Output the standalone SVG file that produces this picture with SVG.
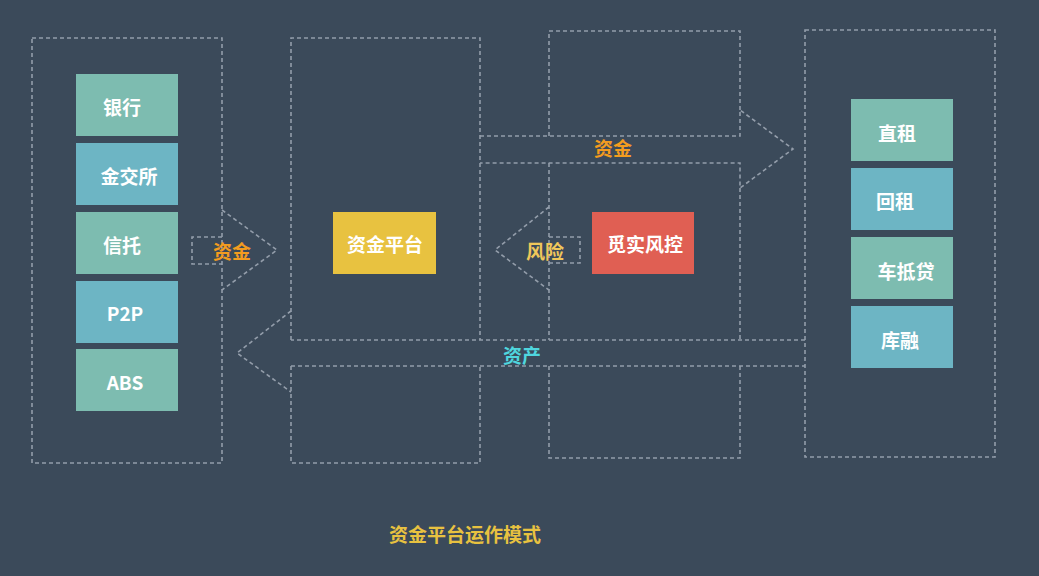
<svg xmlns="http://www.w3.org/2000/svg" width="1039" height="576" viewBox="0 0 1039 576">
<style>
.d{fill:none;stroke:#939daa;stroke-width:1.6;stroke-dasharray:4 3}
.t{font-family:"Noto Sans CJK SC","Liberation Sans",sans-serif;font-weight:bold;font-size:19px;text-anchor:middle;dominant-baseline:central}
.w{fill:#ffffff}
.g{fill:#7dbcb0}
.b{fill:#6db5c4}
</style>
<rect width="1039" height="576" fill="#3b4a5a"/>
<g id="frames">
<rect class="d" x="32" y="38" width="190" height="425"/>
<rect class="d" x="805" y="30" width="190" height="427"/>
<polyline class="d" points="291,340 291,38 480,38 480,340"/>
<polyline class="d" points="291,366 291,463 480,463 480,366"/>
<polyline class="d" points="549,136 549,31 740,31 740,110"/>
<polyline class="d" points="549,163 549,340"/>
<polyline class="d" points="740,188 740,340"/>
<polyline class="d" points="549,366 549,458 740,458 740,366"/>
</g>
<g id="connectors">
<path class="d" d="M222,237 H192 V264 H222 M222,210 L277,250 L222,290"/>
<path class="d" d="M480,136 H740 V110 L793,149 L740,188 V163 H480"/>
<path class="d" d="M549,207 L495,250 L549,290 M549,237 H580 V263 H549"/>
<path class="d" d="M805,340 H291 M291,311 L237,353 L291,392 M291,366 H805"/>
<text class="t" x="232" y="250" fill="#f39c1f" font-size="20">资金</text>
<text class="t" x="613" y="147" fill="#f39c1f">资金</text>
<text class="t" x="545" y="250" fill="#f0c75a" font-size="20">风险</text>
<text class="t" x="522" y="354" fill="#4fd6de">资产</text>
</g>
<g id="n-bank"><rect class="g" x="76" y="74" width="102" height="62"/><text class="t w" x="122" y="106">银行</text></g>
<g id="n-jjs"><rect class="b" x="76" y="143" width="102" height="62"/><text class="t w" x="129" y="175">金交所</text></g>
<g id="n-xt"><rect class="g" x="76" y="212" width="102" height="62"/><text class="t w" x="122" y="244">信托</text></g>
<g id="n-p2p"><rect class="b" x="76" y="281" width="102" height="62"/><text class="t w" x="125" y="312" font-family="Liberation Sans,sans-serif">P2P</text></g>
<g id="n-abs"><rect class="g" x="76" y="349" width="102" height="62"/><text class="t w" x="125" y="381" font-family="Liberation Sans,sans-serif">ABS</text></g>
<g id="n-platform"><rect x="333" y="212" width="103" height="62" fill="#e8c240"/><text class="t w" x="385" y="243">资金平台</text></g>
<g id="n-risk"><rect x="592" y="212" width="102" height="62" fill="#e05f53"/><text class="t w" x="645" y="243">觅实风控</text></g>
<g id="n-zz"><rect class="g" x="851" y="99" width="102" height="62"/><text class="t w" x="897" y="132">直租</text></g>
<g id="n-hz"><rect class="b" x="851" y="168" width="102" height="62"/><text class="t w" x="895" y="200">回租</text></g>
<g id="n-cdd"><rect class="g" x="851" y="237" width="102" height="62"/><text class="t w" x="906" y="270">车抵贷</text></g>
<g id="n-kr"><rect class="b" x="851" y="306" width="102" height="62"/><text class="t w" x="900" y="339">库融</text></g>
<text class="t" x="465" y="533" fill="#e8c240" font-size="20">资金平台运作模式</text>
</svg>
